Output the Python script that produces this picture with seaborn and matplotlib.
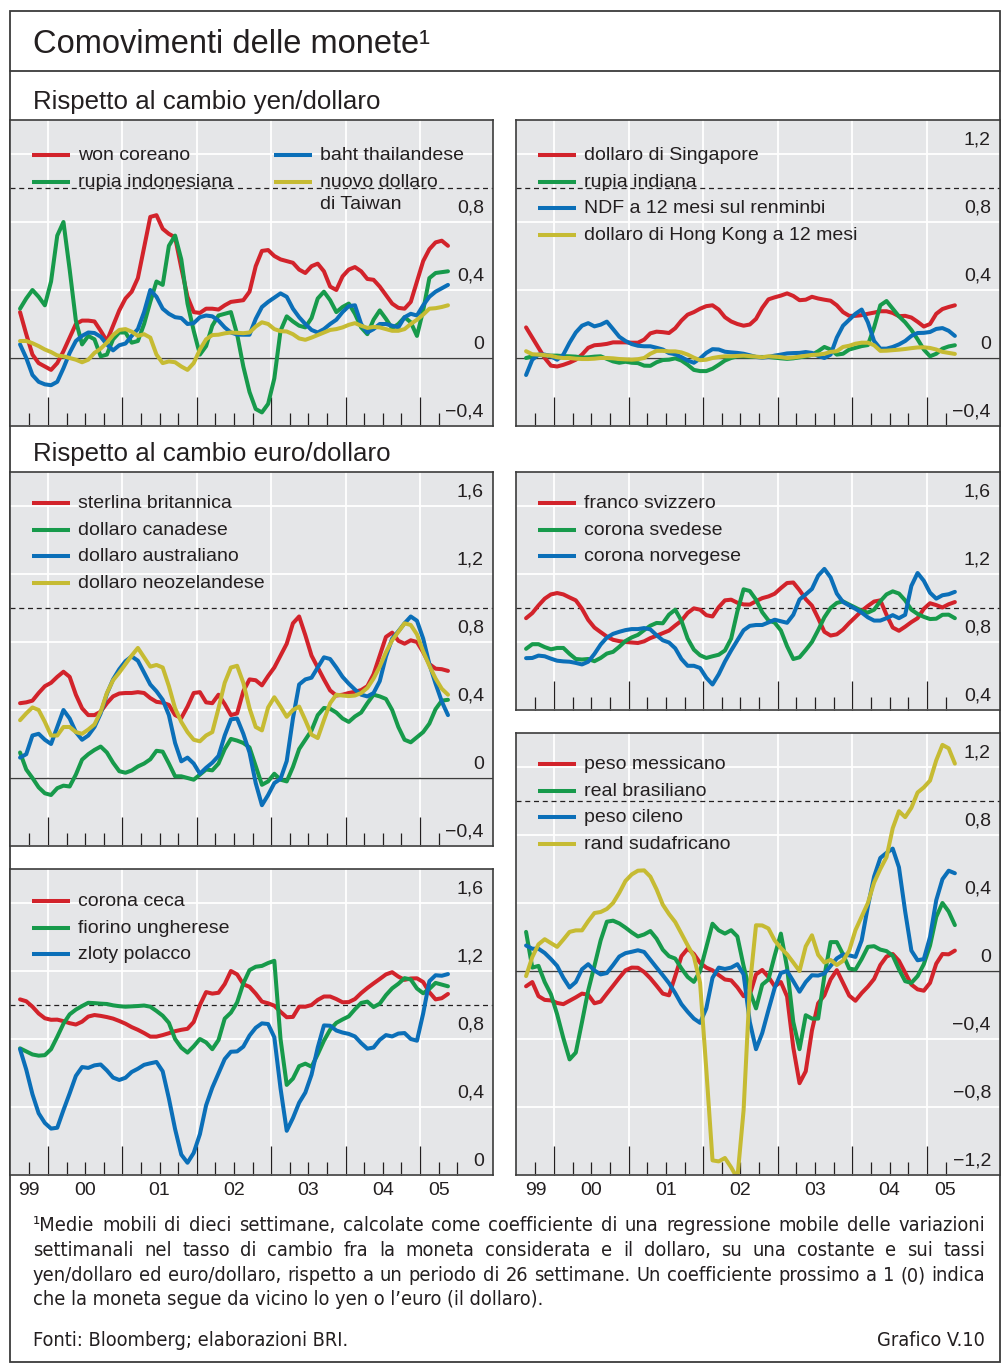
import numpy as np
import pandas as pd
import seaborn as sns
import matplotlib.pyplot as plt
from matplotlib import font_manager
from matplotlib.patches import Rectangle

sns.set_theme(style='white')
plt.rcParams['font.family'] = ['Liberation Sans', 'DejaVu Sans']

# monthly mid-points, Aug 1999 - May 2005
months = 1999 + (np.arange(70) + 7.5) / 12

# --- yen/dollaro, left panel
won = [.27, .14, .02, -.03, -.05, -.07, -.03, .04, .12, .20, .22, .22, .215, .16, .10, .19, .28, .35, .39, .47,
       .65, .83, .84, .76, .73, .71, .53, .36, .27, .265, .29, .29, .285, .31, .33, .335, .34, .39, .54, .63,
       .635, .60, .58, .57, .56, .52, .50, .54, .555, .51, .42, .40, .48, .52, .535, .51, .465, .46, .42, .37,
       .32, .295, .29, .33, .45, .57, .64, .68, .69, .66]
rupia_indonesiana = [.29, .35, .40, .36, .31, .45, .72, .80, .52, .22, .08, .13, .11, .01, .02, .11, .15, .15, .09, .10,
                     .20, .33, .45, .43, .66, .72, .58, .32, .16, .02, .07, .19, .25, .26, .27, .14, -.05, -.20, -.30, -.32,
                     -.27, -.12, .16, .245, .215, .19, .18, .235, .35, .39, .34, .27, .30, .32, .26, .18, .14, .225, .28, .23,
                     .175, .20, .24, .21, .13, .28, .47, .50, .505, .51]
baht = [.08, 0.0, -.10, -.14, -.155, -.16, -.14, -.06, .03, .10, .13, .15, .147, .125, .08, .045, .075, .085, .13, .17,
        .27, .40, .36, .29, .26, .24, .235, .20, .205, .24, .25, .245, .22, .18, .15, .138, .137, .137, .23, .30,
        .33, .355, .38, .36, .29, .24, .20, .165, .15, .17, .20, .225, .27, .305, .31, .20, .15, .17, .20, .20,
        .19, .18, .24, .26, .25, .31, .36, .39, .41, .43]
taiwan = [.10, .10, .087, .07, .05, .035, .015, .01, 0.0, -.01, -.025, -.01, .03, .055, .09, .135, .165, .17, .155, .13,
          .14, .12, .02, -.03, -.02, -.025, -.05, -.07, -.03, .05, .11, .135, .137, .145, .15, .148, .146, .15, .185, .21,
          .20, .17, .158, .156, .14, .115, .107, .12, .135, .15, .165, .17, .18, .195, .205, .19, .177, .183, .18, .17,
          .16, .16, .17, .20, .225, .255, .29, .293, .30, .31]

# --- yen/dollaro, right panel
singapore = [.18, .12, .06, 0.0, -.045, -.05, -.04, -.027, -.01, .02, .06, .075, .078, .083, .092, .092, .092, .09, .09, .108,
             .145, .155, .152, .147, .175, .22, .255, .27, .29, .305, .31, .285, .24, .215, .20, .19, .197, .23, .295, .345,
             .357, .367, .38, .365, .34, .343, .36, .35, .343, .337, .31, .27, .248, .248, .252, .26, .267, .275, .275, .265,
             .246, .248, .238, .213, .185, .20, .26, .288, .30, .31]
rupia_indiana = [0.0, .01, .018, .016, .014, .014, .011, .01, .008, .002, .004, .008, .01, -.005, -.02, -.028, -.022, -.028, -.03, -.045,
                 -.046, -.025, -.012, -.01, -.002, -.015, -.04, -.07, -.077, -.077, -.063, -.04, -.015, 0.0, .01, .01, .008, .006, .006, .006,
                 .002, -.002, -.005, -.002, .004, .01, .019, .04, .065, .05, .02, .025, .05, .06, .07, .076, .18, .31, .335, .29,
                 .245, .21, .165, .11, .05, .01, .025, .055, .068, .075]
ndf_renminbi = [-.10, -.01, .02, .02, .01, -.01, .02, .09, .15, .19, .205, .186, .196, .214, .17, .125, .10, .082, .072, .069,
                .069, .06, .05, .029, .022, .005, -.015, -.028, -.003, .03, .052, .05, .037, .033, .03, .025, .016, .006, .002, .006,
                .014, .02, .027, .029, .03, .035, .03, .012, 0.0, .02, .12, .19, .225, .26, .285, .21, .10, .055, .055, .065,
                .08, .10, .13, .147, .148, .153, .171, .176, .16, .13]
hong_kong = [.04, .022, .02, .017, .013, .004, 0.0, 0.0, -.004, -.006, -.006, -.004, 0.0, 0.0, -.002, -.006, -.008, -.01, -.007, 0.0,
             .025, .042, .042, .039, .039, .033, .02, .002, -.013, -.01, 0.0, .006, .01, .01, .012, .014, .011, .008, .004, .01,
             .008, .005, 0.0, .003, .008, .013, .018, .02, .025, .036, .04, .065, .072, .084, .09, .09, .075, .042, .043, .046,
             .049, .053, .058, .062, .063, .059, .05, .036, .03, .024]

# --- euro/dollaro
sterlina = [.44, .445, .455, .50, .54, .56, .595, .625, .595, .49, .41, .37, .37, .39, .44, .48, .497, .50, .50, .505,
            .50, .47, .448, .443, .43, .37, .353, .42, .50, .505, .445, .44, .49, .435, .37, .38, .51, .58, .575, .545,
            .60, .65, .72, .79, .91, .95, .84, .72, .65, .58, .515, .485, .49, .50, .507, .517, .54, .61, .72, .83,
            .855, .807, .79, .81, .80, .74, .67, .643, .64, .63]
canadese = [.15, .05, 0.0, -.055, -.09, -.10, -.06, -.045, -.05, .02, .108, .14, .165, .185, .15, .09, .04, .031, .044, .068,
            .085, .11, .16, .155, .085, .01, .01, 0.0, -.01, .02, .05, .045, .085, .17, .23, .22, .206, .18, .07, -.04,
            -.02, .025, -.01, -.02, .065, .17, .225, .28, .37, .412, .407, .385, .35, .33, .362, .385, .44, .49, .48, .465,
            .40, .30, .225, .21, .24, .27, .32, .405, .455, .46]
australiano = [.12, .14, .25, .26, .225, .20, .30, .40, .35, .27, .225, .25, .30, .38, .495, .58, .64, .687, .715, .69,
               .62, .55, .51, .46, .37, .206, .098, .12, .085, .025, .06, .09, .13, .25, .345, .35, .26, .15, -.03, -.16,
               -.10, -.03, -.005, .10, .35, .55, .58, .59, .65, .71, .70, .65, .595, .555, .52, .49, .48, .50, .57, .715,
               .82, .863, .91, .95, .925, .82, .67, .555, .45, .37]
neozelandese = [.34, .38, .415, .40, .33, .25, .25, .30, .30, .27, .26, .285, .315, .39, .50, .575, .62, .67, .72, .765,
                .71, .655, .665, .65, .54, .41, .33, .27, .225, .216, .25, .27, .41, .56, .65, .66, .56, .41, .30, .28,
                .415, .475, .42, .36, .40, .42, .34, .255, .235, .34, .44, .49, .485, .482, .485, .50, .53, .585, .655, .74,
                .81, .86, .91, .90, .845, .745, .66, .585, .525, .49]

svizzero = [.94, .97, 1.015, 1.055, 1.08, 1.088, 1.08, 1.062, 1.045, .995, .93, .885, .858, .832, .813, .805, .80, .797, .794, .804,
            .823, .837, .852, .867, .897, .925, .971, .998, .99, .958, .95, 1.005, 1.045, 1.049, 1.031, 1.021, 1.02, 1.04, 1.058, 1.068,
            1.084, 1.117, 1.147, 1.15, 1.105, 1.052, 1.014, .94, .86, .838, .845, .873, .912, .947, .983, 1.012, 1.038, 1.045, .96, .885,
            .866, .89, .917, .94, .995, 1.028, 1.017, 1.003, 1.022, 1.035]
svedese = [.76, .787, .787, .77, .757, .765, .765, .73, .70, .697, .70, .687, .706, .732, .742, .772, .806, .827, .842, .87,
           .896, .912, .91, .961, .99, .925, .82, .755, .722, .706, .716, .725, .75, .82, .98, 1.11, 1.10, 1.049, .975, .927,
           .914, .868, .775, .70, .71, .753, .80, .87, .945, 1.0, 1.03, 1.039, 1.02, 1.002, .983, .973, .99, 1.04, 1.08, 1.098,
           1.085, 1.045, .99, .965, .948, .935, .937, .96, .961, .94]
norvegese = [.705, .706, .72, .716, .702, .69, .686, .684, .677, .668, .684, .73, .785, .826, .848, .86, .87, .876, .876, .882,
             .874, .84, .81, .797, .763, .70, .66, .66, .647, .59, .55, .61, .685, .75, .81, .869, .895, .90, .90, .915,
             .931, .922, .913, .96, 1.05, 1.08, 1.112, 1.19, 1.23, 1.18, 1.085, 1.035, 1.015, .995, .973, .945, .926, .926, .94, .958,
             .94, .96, 1.13, 1.206, 1.16, 1.09, 1.055, 1.075, 1.081, 1.095]

ceca = [1.033, 1.022, .99, .95, .922, .913, .914, .905, .893, .885, .902, .932, .941, .936, .929, .92, .906, .89, .87, .854,
        .835, .814, .814, .823, .834, .846, .854, .86, .90, 1.00, 1.076, 1.067, 1.072, 1.123, 1.2, 1.18, 1.122, 1.107, 1.067, 1.02,
        1.01, .996, .96, .928, .93, .99, .99, 1.0, 1.03, 1.05, 1.05, 1.035, 1.016, 1.017, 1.035, 1.07, 1.1, 1.127, 1.153, 1.18,
        1.193, 1.167, 1.148, 1.156, 1.157, 1.135, 1.075, 1.033, 1.04, 1.065]
ungherese = [.745, .727, .709, .702, .705, .74, .813, .89, .945, .973, .994, 1.013, 1.011, 1.008, 1.006, .998, .993, .99, .992, .994,
             .997, .99, .965, .937, .895, .80, .749, .72, .757, .80, .78, .74, .794, .92, .955, 1.015, 1.127, 1.205, 1.225, 1.23,
             1.247, 1.26, .80, .53, .567, .64, .655, .637, .71, .79, .855, .895, .915, .933, .975, 1.012, 1.02, .988, 1.008, 1.058,
             1.098, 1.125, 1.158, 1.15, 1.097, 1.069, 1.095, 1.13, 1.12, 1.11]
zloty = [.74, .62, .475, .363, .306, .273, .278, .382, .48, .583, .635, .63, .645, .65, .615, .573, .559, .572, .606, .625,
         .648, .657, .665, .61, .45, .27, .12, .072, .13, .24, .41, .514, .598, .682, .725, .727, .755, .82, .866, .892,
         .888, .81, .51, .26, .335, .425, .485, .59, .75, .88, .878, .85, .838, .83, .815, .776, .743, .75, .795, .823,
         .815, .832, .835, .80, .79, .95, 1.14, 1.175, 1.172, 1.182]

messicano = [-.09, -.065, -.148, -.17, -.173, -.188, -.195, -.175, -.155, -.133, -.14, -.19, -.18, -.133, -.087, -.04, .004, .02, .019, -.006,
             -.043, -.087, -.133, -.143, -.03, .087, .131, .10, .048, .02, .004, -.024, -.05, -.055, -.096, -.148, -.14, -.02, .006, -.035,
             -.09, -.065, -.15, -.45, -.66, -.59, -.35, -.19, -.143, -.05, .005, -.07, -.145, -.175, -.13, -.092, -.047, .035, .085, .10,
             .06, -.01, -.08, -.108, -.116, -.07, .043, .10, .098, .12]
brasiliano = [.23, .02, .03, -.065, -.137, -.255, -.395, -.52, -.48, -.30, -.115, .03, .18, .29, .296, .28, .255, .227, .203, .215,
              .235, .19, .125, .087, .073, .015, -.035, -.064, 0.0, .14, .278, .239, .22, .24, .203, .03, -.12, -.22, -.08, -.05,
              .09, .22, .02, -.30, -.46, -.26, -.28, -.28, -.03, .17, .17, .098, .014, .008, .07, .142, .146, .126, .117, .09,
              .01, -.06, -.07, -.03, .04, .15, .318, .40, .35, .27]
cileno = [.15, .131, .131, .106, .07, .03, -.04, -.097, -.065, .01, .04, .003, -.02, -.012, .035, .085, .105, .113, .122, .112,
          .066, .02, -.025, -.072, -.13, -.195, -.24, -.28, -.305, -.22, -.04, .02, .012, .02, .04, -.02, -.30, -.46, -.365, -.23,
          -.10, -.012, 0.0, -.06, -.122, -.065, -.025, -.027, -.015, .03, .074, .097, .092, .083, .18, .38, .555, .665, .695, .72,
          .61, .35, .12, .063, .07, .20, .416, .54, .59, .575]
rand = [-.03, .082, .157, .187, .164, .142, .185, .23, .239, .239, .293, .341, .347, .365, .40, .46, .53, .568, .59, .592,
        .555, .48, .39, .335, .288, .22, .151, .085, -.07, -.58, -1.114, -1.12, -1.10, -1.155, -1.22, -.82, -.09, .269, .268, .25,
        .18, .135, .098, .05, 0.0, .145, .21, .095, .05, .065, .035, .06, .12, .24, .32, .40, .52, .60, .67, .84,
        .94, .905, .96, 1.05, 1.08, 1.12, 1.239, 1.33, 1.31, 1.22]

year_labels = ['99', '00', '01', '02', '03', '04', '05']
year_label_pos = [1999.75, 2000.5, 2001.5, 2002.5, 2003.5, 2004.5, 2005.25]

RED, GREEN, BLUE, YELLOW = '#d2232b', '#179a4b', '#0b6fb8', '#c6bb33'
BG = '#e5e6e8'
INK = '#231f20'
EDGE = '#3c3c3c'
FS = 14

W, H = 1002, 1365
fig = plt.figure(figsize=(W / 100, H / 100), dpi=100)

# full-figure layer in pixel units for frame, headings and notes
base = fig.add_axes([0, 0, 1, 1], zorder=-1)
base.set_xlim(0, W)
base.set_ylim(H, 0)
base.axis('off')


def fmt(v):
    if abs(v) < 1e-9:
        return '0'
    s = f'{abs(v):.1f}'.replace('.', ',')
    return ('\u2212' + s) if v < 0 else s


def panel(box, ylim, names, series, colors, labels, first_row, ticklabels,
          last_tick=2005.25, col2=None, years=False):
    l, t, r, b = box
    w, h = r - l, b - t
    ax = fig.add_axes([l / W, 1 - b / H, w / W, h / H])
    ax.set_facecolor(BG)
    df = pd.DataFrame({'t': np.tile(months, len(series)),
                       'v': np.concatenate([np.asarray(s, float) for s in series]),
                       'serie': np.repeat(names, len(months))})
    sns.lineplot(data=df, x='t', y='v', hue='serie', hue_order=names,
                 palette=dict(zip(names, colors)), linewidth=2.9,
                 legend=False, errorbar=None, ax=ax)
    ax.set_xlim(1999.49, 2005.98)
    ax.set_ylim(*ylim)
    ax.set_xticks(range(2000, 2006))
    ax.set_xticks([q for q in np.arange(1999.75, last_tick + 0.01, 0.25) if q % 1], minor=True)
    ax.set_yticks(np.arange(ylim[0], ylim[1] + 0.01, 0.4))
    ax.grid(True, which='major', color='white', linewidth=1.3)
    ax.set_axisbelow(True)
    ax.tick_params(axis='x', which='major', direction='in', length=21, width=0.9,
                   color=INK, bottom=True, labelbottom=False)
    ax.tick_params(axis='x', which='minor', direction='in', length=9.5, width=0.9,
                   color=INK, bottom=True)
    ax.tick_params(axis='y', length=0, labelleft=False)
    ax.set_xlabel('')
    ax.set_ylabel('')
    for s in ax.spines.values():
        s.set_visible(True)
        s.set_color(EDGE)
        s.set_linewidth(1.2)
    if ylim[0] < 0 < ylim[1]:
        ax.axhline(0, color=EDGE, lw=1.0, zorder=1.5)
    ax.axhline(1.0, color=INK, lw=0.9, ls=(0, (4, 3)), zorder=1.5)
    for v in ticklabels:
        ax.annotate(fmt(v), xy=(1, v), xycoords=('axes fraction', 'data'),
                    xytext=(-6.5, 10), textcoords='offset points',
                    ha='right', va='center', fontsize=FS, color=INK)
    # legend drawn as line samples with text
    for i, (lab, col) in enumerate(zip(labels, colors)):
        dx, row = (0, i) if col2 is None or i < col2 else (242, i - col2)
        y = first_row + row * 26.7
        ax.plot([(22 + dx) / w, (60 + dx) / w], [1 - y / h] * 2, transform=ax.transAxes,
                color=col, lw=2.9, solid_capstyle='butt', clip_on=False)
        for j, part in enumerate(lab.split('\n')):
            ax.text((68 + dx) / w, 1 - (y + 5 + 22 * j) / h, part, transform=ax.transAxes,
                    fontsize=FS, color=INK, va='baseline')
    if years:
        for x, lab in zip(year_label_pos, year_labels):
            ax.annotate(lab, xy=(x, 0), xycoords=('data', 'axes fraction'),
                        xytext=(0, -11), textcoords='offset points',
                        ha='center', va='center', fontsize=FS, color=INK)
    return ax


colors4 = [RED, GREEN, BLUE, YELLOW]
colors3 = [RED, GREEN, BLUE]

panel((10, 120, 493, 426), (-0.4, 1.4), ['won', 'rupia', 'baht', 'twd'],
      [won, rupia_indonesiana, baht, taiwan], colors4,
      ['won coreano', 'rupia indonesiana', 'baht thailandese', 'nuovo dollaro\ndi Taiwan'],
      35, [0.8, 0.4, 0, -0.4], col2=2)
panel((516, 120, 1000, 426), (-0.4, 1.4), ['sgd', 'inr', 'ndf', 'hkd'],
      [singapore, rupia_indiana, ndf_renminbi, hong_kong], colors4,
      ['dollaro di Singapore', 'rupia indiana', 'NDF a 12 mesi sul renminbi',
       'dollaro di Hong Kong a 12 mesi'],
      35, [1.2, 0.8, 0.4, 0, -0.4])
panel((10, 472, 493, 846), (-0.4, 1.8), ['gbp', 'cad', 'aud', 'nzd'],
      [sterlina, canadese, australiano, neozelandese], colors4,
      ['sterlina britannica', 'dollaro canadese', 'dollaro australiano', 'dollaro neozelandese'],
      31, [1.6, 1.2, 0.8, 0.4, 0, -0.4])
panel((516, 472, 1000, 710), (0.4, 1.8), ['chf', 'sek', 'nok'],
      [svizzero, svedese, norvegese], colors3,
      ['franco svizzero', 'corona svedese', 'corona norvegese'],
      31, [1.6, 1.2, 0.8, 0.4])
panel((10, 869, 493, 1175), (0.0, 1.8), ['czk', 'huf', 'pln'],
      [ceca, ungherese, zloty], colors3,
      ['corona ceca', 'fiorino ungherese', 'zloty polacco'],
      32, [1.6, 1.2, 0.8, 0.4, 0], last_tick=2005.5, years=True)
panel((516, 733, 1000, 1175), (-1.2, 1.4), ['mxn', 'brl', 'clp', 'zar'],
      [messicano, brasiliano, cileno, rand], colors4,
      ['peso messicano', 'real brasiliano', 'peso cileno', 'rand sudafricano'],
      31, [1.2, 0.8, 0.4, 0, -0.4, -0.8, -1.2], years=True)

# frame, title and section headings
base.add_patch(Rectangle((10, 11), 990, 1351, fill=False, lw=1.3, ec=EDGE))
base.plot([10, 1000], [71, 71], color=EDGE, lw=1.3)
base.text(33, 53, 'Comovimenti delle monete\u00b9', fontsize=23.5, color=INK, va='baseline')
base.text(33, 109, 'Rispetto al cambio yen/dollaro', fontsize=18.6, color=INK, va='baseline')
base.text(33, 461, 'Rispetto al cambio euro/dollaro', fontsize=18.6, color=INK, va='baseline')

# footnote, condensed face when one is installed
fonts = font_manager.fontManager.ttflist
if any(f.name == 'Liberation Sans Narrow' for f in fonts):
    note_font = dict(family='Liberation Sans Narrow', fontsize=15)
elif any(f.name == 'DejaVu Sans' and 'condensed' in str(f.stretch) for f in fonts):
    note_font = dict(family='DejaVu Sans', fontstretch='condensed', fontsize=14.3)
else:
    note_font = dict(family='Liberation Sans', fontsize=12.3)

renderer = fig.canvas.get_renderer()


def note_line(y, text, justify=True):
    if not justify:
        base.text(33, y, text, va='baseline', color=INK, **note_font)
        return
    words = text.split(' ')
    arts = [base.text(0, y, wd, va='baseline', color=INK, **note_font) for wd in words]
    widths = [a.get_window_extent(renderer).width for a in arts]
    gap = (985 - 33 - sum(widths)) / (len(words) - 1)
    x = 33
    for a, wd in zip(arts, widths):
        a.set_x(x)
        x += wd + gap


note_line(1231, '\u00b9Medie mobili di dieci settimane, calcolate come coefficiente di una regressione mobile delle variazioni')
note_line(1256, 'settimanali nel tasso di cambio fra la moneta considerata e il dollaro, su una costante e sui tassi')
note_line(1281, 'yen/dollaro ed euro/dollaro, rispetto a un periodo di 26 settimane. Un coefficiente prossimo a 1 (0) indica')
note_line(1305, 'che la moneta segue da vicino lo yen o l\u2019euro (il dollaro).', justify=False)
note_line(1346, 'Fonti: Bloomberg; elaborazioni BRI.', justify=False)
base.text(985, 1346, 'Grafico V.10', ha='right', va='baseline', color=INK, **note_font)

fig.savefig('out.png', dpi=100)
